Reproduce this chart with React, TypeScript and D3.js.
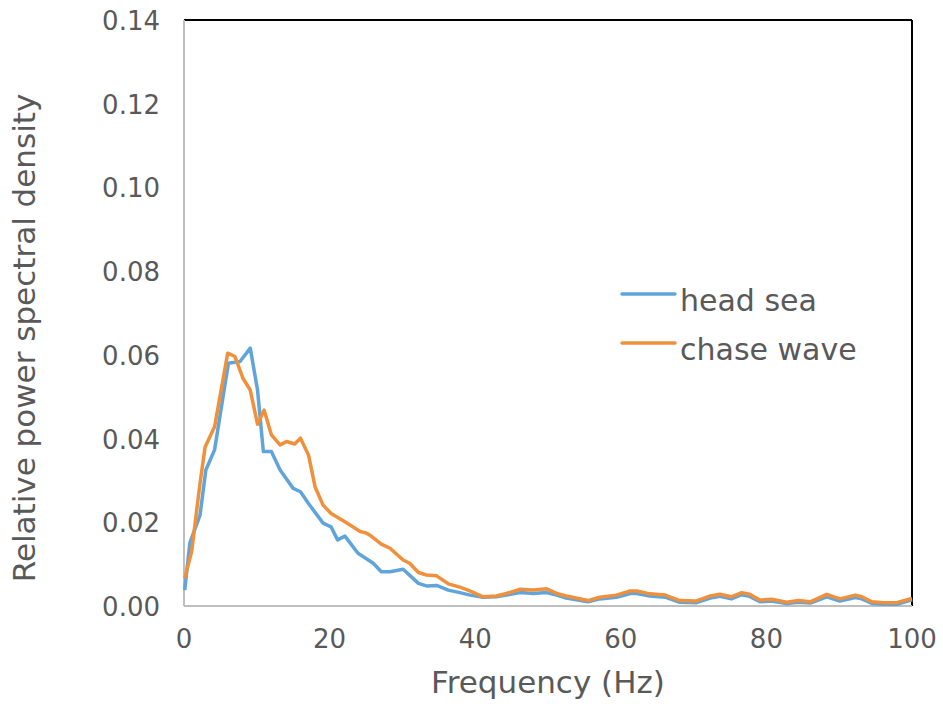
import React from "react";
import * as d3 from "d3";

const headFreq = [0.1, 0.8, 2.2, 3.0, 4.2, 6.1, 7.7, 9.1, 10.1, 10.9, 12.0, 13.2, 15.0, 16.0, 17.1, 19.1, 20.2, 21.1, 22.1, 23.9, 26.0, 27.1, 28.3, 30.1, 32.2, 33.3, 34.7, 36.3, 37.9, 39.3, 41.1, 42.9, 44.3, 46.2, 48.0, 49.8, 51.2, 52.5, 55.5, 57.1, 59.4, 61.3, 62.2, 64.0, 66.1, 68.1, 70.4, 72.3, 73.6, 75.2, 76.6, 77.7, 79.1, 80.7, 82.8, 84.4, 86.0, 88.3, 90.1, 92.2, 93.1, 94.5, 96.1, 97.9, 100];
const headSea = [0.0038, 0.015, 0.0217, 0.0325, 0.0373, 0.058, 0.0584, 0.0616, 0.0516, 0.0369, 0.0369, 0.0325, 0.0281, 0.0273, 0.0245, 0.0198, 0.0189, 0.0158, 0.0167, 0.0126, 0.0102, 0.0082, 0.0082, 0.0088, 0.0054, 0.0048, 0.0049, 0.0038, 0.0032, 0.0026, 0.0021, 0.0022, 0.0026, 0.0032, 0.003, 0.0032, 0.0026, 0.0019, 0.0010, 0.0017, 0.0021, 0.0030, 0.0030, 0.0024, 0.0021, 0.0009, 0.0008, 0.0019, 0.0023, 0.0017, 0.0027, 0.0023, 0.0010, 0.0012, 0.0006, 0.0009, 0.0007, 0.0022, 0.0012, 0.0020, 0.0017, 0.0006, 0.0004, 0.0004, 0.0015];

const chaseFreq = [0.1, 1.05, 2.2, 2.9, 4.2, 6.0, 7.0, 8.1, 9.1, 10.1, 11.0, 12.0, 13.2, 14.1, 15.2, 16.0, 17.1, 18.0, 19.1, 20.2, 22.1, 24.2, 25.1, 25.8, 27.1, 28.3, 30.1, 31.0, 32.2, 33.3, 34.7, 36.3, 37.9, 39.0, 41.1, 42.9, 44.3, 46.2, 48.0, 49.8, 51.2, 52.5, 55.5, 57.1, 59.4, 61.3, 62.2, 64.0, 66.1, 68.1, 70.4, 72.3, 73.6, 75.2, 76.6, 77.7, 79.1, 80.7, 82.8, 84.4, 86.0, 88.3, 90.1, 92.2, 93.1, 94.5, 96.1, 97.9, 100];
const chaseWave = [0.0066, 0.013, 0.0293, 0.038, 0.0428, 0.0604, 0.0596, 0.0544, 0.0516, 0.0434, 0.0468, 0.0409, 0.0385, 0.0393, 0.0387, 0.0401, 0.0361, 0.0285, 0.0241, 0.0221, 0.0201, 0.0178, 0.0174, 0.0166, 0.0148, 0.0138, 0.011, 0.0102, 0.008, 0.0074, 0.0072, 0.0053, 0.0045, 0.0038, 0.0022, 0.0024, 0.003, 0.004, 0.0038, 0.0041, 0.003, 0.0024, 0.0013, 0.0021, 0.0026, 0.0036, 0.0036, 0.0029, 0.0026, 0.0013, 0.0012, 0.0024, 0.0028, 0.0022, 0.0032, 0.0028, 0.0014, 0.0016, 0.0009, 0.0013, 0.001, 0.0028, 0.0017, 0.0026, 0.0022, 0.001, 0.0008, 0.0008, 0.0018];

const xTicks = [0, 20, 40, 60, 80, 100];
const yTicks = [0, 0.02, 0.04, 0.06, 0.08, 0.1, 0.12, 0.14];

const seriesNames = ["head sea", "chase wave"];
const seriesColors = ["#5FA5DC", "#F0903C"];

export default function App() {
  const W = 943, H = 704;
  const L = 184, R = 912, T = 20, B = 606;
  const x = d3.scaleLinear().domain([0, 100]).range([L, R]);
  const y = d3.scaleLinear().domain([0, 0.14]).range([B, T]);
  const line = d3.line<[number, number]>().x(d => x(d[0])).y(d => y(d[1]));
  const headPts = headFreq.map((f, i) => [f, headSea[i]] as [number, number]);
  const chasePts = chaseFreq.map((f, i) => [f, chaseWave[i]] as [number, number]);
  const font = "'DejaVu Sans', sans-serif";
  const textColor = "#595959";
  return (
    <svg width={W} height={H} style={{ position: "absolute", left: 0, top: 0 }} fontFamily={font}>
      <rect x={0} y={0} width={W} height={H} fill="#fff" />
      <line x1={L} y1={T} x2={R} y2={T} stroke="#000" strokeWidth={2} />
      <line x1={R} y1={T} x2={R} y2={B} stroke="#000" strokeWidth={2} />
      <line x1={L} y1={T} x2={L} y2={B} stroke="#BFBFBF" strokeWidth={2} />
      <line x1={L} y1={B} x2={R} y2={B} stroke="#BFBFBF" strokeWidth={2} />
      {yTicks.map(t => (
        <text key={t} x={160} y={y(t) + 10} textAnchor="end" fontSize={26} fill={textColor}>
          {t.toFixed(2)}
        </text>
      ))}
      {xTicks.map(t => (
        <text key={t} x={x(t)} y={648} textAnchor="middle" fontSize={26} fill={textColor}>
          {t}
        </text>
      ))}
      <text x={548} y={693} textAnchor="middle" fontSize={31} fill={textColor}>Frequency (Hz)</text>
      <text transform={`translate(35,338) rotate(-90)`} textAnchor="middle" fontSize={31} fill={textColor}>
        Relative power spectral density
      </text>
      <path d={line(headPts) || ""} fill="none" stroke={seriesColors[0]} strokeWidth={3.5} strokeLinejoin="round" />
      <path d={line(chasePts) || ""} fill="none" stroke={seriesColors[1]} strokeWidth={3.5} strokeLinejoin="round" />
      {seriesNames.map((n, i) => (
        <g key={n}>
          <line x1={622} x2={675} y1={294 + i * 49} y2={294 + i * 49} stroke={seriesColors[i]} strokeWidth={3.5} strokeLinecap="round" />
          <text x={680} y={311 + i * 49} fontSize={30} fill={textColor}>{n}</text>
        </g>
      ))}
    </svg>
  );
}
